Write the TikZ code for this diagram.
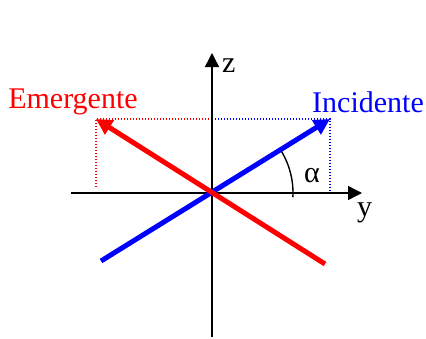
\documentclass[tikz,border=0pt]{standalone}
\usepackage{fontspec}
\setmainfont{Liberation Serif}
\usetikzlibrary{arrows.meta}
\begin{document}
\begin{tikzpicture}[x=1pt,y=-1pt,
  axis/.style={line width=1.4pt,-{Triangle[length=14pt,width=14pt]}},
  ray/.style={line width=5pt,-{Triangle[length=16pt,width=16pt]}},
  guide/.style={line width=1.2pt,dash pattern=on 1.3pt off 1.7pt},
  lbl/.style={font=\fontsize{30}{32}\selectfont,inner sep=0pt}]
\useasboundingbox (0,0) rectangle (426,338);
\coordinate (O) at (212,193);
\coordinate (yL) at (71,193);
\coordinate (yR) at (362,193);
\coordinate (zB) at (212,337);
\coordinate (zT) at (212,53);
\coordinate (iS) at (101,261);
\coordinate (iE) at (330,119);
\coordinate (eS) at (325,264);
\coordinate (eE) at (96,119);
\coordinate (eF) at (96,187);
\coordinate (iF) at (330,193);
\coordinate (mid) at (212,119);
% dotted projections
\draw[guide,red] (eF) -- (eE) -- (mid);
\draw[guide,blue] (mid) -- (iE) -- (iF);
% axes
\draw[axis] (yL) -- (yR);
\draw[axis] (zB) -- (zT);
% rays
\draw[ray,blue] (iS) -- (iE);
\draw[ray,red] (eS) -- (eE);
% angle
\draw[line width=1.4pt] (O) ++(3:81) arc[start angle=3,end angle=-31,radius=81];
% labels
\node[lbl,anchor=base west] (zl) at (222,72) {z};
\node[lbl,anchor=base west] (yl) at (357,216) {y};
\node[lbl] (al) at (312,176) {α};
\node[lbl,red] (em) at (73,102) {Emergente};
\node[lbl,blue] (in) at (368,102) {Incidente};
\end{tikzpicture}
\end{document}
